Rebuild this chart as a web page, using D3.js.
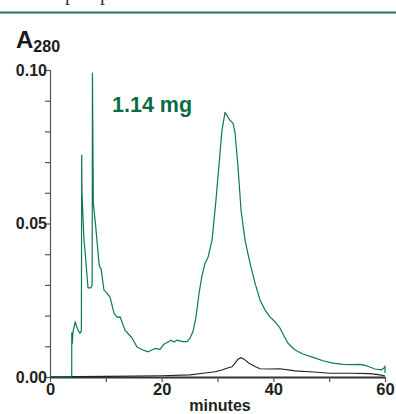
<!DOCTYPE html>
<html><head><meta charset="utf-8">
<script src="https://cdn.jsdelivr.net/npm/d3@7"></script>
<style>body{margin:0;background:#fff}svg{display:block}</style>
</head><body>
<svg id="c" width="396" height="414"></svg>
<script>
// Data (minutes, A280)
const greenTime = [0,3.89,3.9,4.0,4.12,4.53,4.78,5.1,5.37,5.62,5.68,5.73,6.09,6.32,6.81,7.29,7.55,7.6,7.76,8.19,8.78,8.96,9.13,9.67,10.21,10.75,11.46,12.0,12.54,13.43,14.69,15.58,16.66,17.55,18.81,19.7,20.42,21.67,22.21,22.75,23.82,24.54,25.08,25.61,26.15,26.69,27.22,27.76,28.3,29.02,29.73,30.45,30.81,31.35,32.19,32.78,33.14,33.67,34.21,34.93,35.82,36.72,37.61,38.51,39.4,40.3,41.2,41.73,42.63,43.88,45.31,47.1,48.9,50.69,52.48,54.27,55.52,56.78,58.21,59.29,60,60,60];
const greenValue = [0,0,0.0144,0.011,0.0148,0.018,0.0164,0.015,0.0143,0.015,0.0723,0.060,0.0446,0.040,0.029,0.029,0.030,0.099,0.0567,0.049,0.037,0.0355,0.0355,0.0283,0.0273,0.026,0.0208,0.0195,0.0196,0.0153,0.0127,0.0098,0.0088,0.0082,0.0093,0.009,0.0107,0.012,0.0114,0.012,0.0115,0.0115,0.0127,0.0148,0.0196,0.0272,0.033,0.037,0.039,0.0446,0.0577,0.073,0.0805,0.0862,0.0837,0.0827,0.0795,0.0685,0.0544,0.0446,0.0371,0.0306,0.0251,0.0218,0.0196,0.018,0.0159,0.014,0.011,0.0088,0.0075,0.0064,0.0053,0.0045,0.0041,0.004,0.0041,0.0036,0.0026,0.0023,0.0032,0.0036,0.0013];
const blackTime = [0,10,20,25.08,27.4,29.55,30.81,31.52,32.6,33.14,33.67,34.21,34.75,35.64,36.72,37.61,39.4,41.2,43.88,46.57,50.15,53.73,57.3,59.1,60];
const blackValue = [0.0001,0.0002,0.0004,0.0007,0.0012,0.0017,0.0023,0.0028,0.0033,0.0045,0.0058,0.0063,0.0058,0.0045,0.0034,0.0027,0.0026,0.0027,0.002,0.0017,0.0012,0.0012,0.0011,0.0007,0.0003];
const xTicks = [0,10,20,30,40,50,60];
const xTickLabels = ["0","","20","","40","","60"];
const yTicks = [0,0.01,0.02,0.03,0.04,0.05,0.06,0.07,0.08,0.09,0.10];
const yTickLabels = {0:"0.00",0.05:"0.05",0.1:"0.10"};
const title = "1.14 mg";
const xLabel = "minutes";

const svg = d3.select("#c");
const x = d3.scaleLinear().domain([0,60]).range([50,385]);
const y = d3.scaleLinear().domain([0,0.10]).range([377,70]);
const green = "#0c7a4f";

// top rule and cut-off text from the page above
svg.append("line").attr("x1",0).attr("x2",396).attr("y1",12.5).attr("y2",12.5)
  .attr("stroke","#1b7d58").attr("stroke-width",2);
svg.append("text").attr("x",65).attr("y",0).attr("font-family","Liberation Serif")
  .attr("font-size",20).attr("fill","#333").text("p");
svg.append("text").attr("x",100).attr("y",0).attr("font-family","Liberation Serif")
  .attr("font-size",20).attr("fill","#333").text("p");

// Y axis
const yAxis = d3.axisLeft(y).tickValues(yTicks).tickSize(5)
  .tickFormat(d => yTickLabels[Math.round(d*100)/100] || "");
const gy = svg.append("g").attr("transform","translate(50,0)").call(yAxis);
gy.select(".domain").attr("stroke","#555").attr("stroke-width",1.2);
gy.selectAll(".tick line").attr("stroke","#555").attr("stroke-width",1.2);
gy.selectAll(".tick text").attr("font-family","Liberation Sans").attr("font-weight","bold")
  .attr("font-size",16).attr("fill","#222").attr("x",-3);

// X axis
const xAxis = d3.axisBottom(x).tickValues(xTicks).tickSize(5)
  .tickFormat((d,i) => xTickLabels[i]).tickSizeOuter(0);
const gx = svg.append("g").attr("transform","translate(0,377)").call(xAxis);
gx.select(".domain").attr("stroke","#333").attr("stroke-width",2);
gx.selectAll(".tick line").attr("stroke","#555").attr("stroke-width",1.2);
gx.selectAll(".tick text").attr("font-family","Liberation Sans").attr("font-weight","bold")
  .attr("font-size",16.5).attr("fill","#222").attr("y",6);

svg.append("text").attr("x",220).attr("y",411).attr("text-anchor","middle")
  .attr("font-family","Liberation Sans").attr("font-weight","bold").attr("font-size",16)
  .attr("fill","#222").text(xLabel);

// A280 label
const a = svg.append("text").attr("x",16).attr("y",48).attr("font-family","Liberation Sans")
  .attr("font-weight","bold").attr("fill","#1a1a1a");
a.append("tspan").attr("font-size",24).text("A");
a.append("tspan").attr("font-size",16).attr("dy",4).text("280");

// title
svg.append("text").attr("x",112).attr("y",112).attr("font-family","Liberation Sans")
  .attr("font-weight","bold").attr("font-size",21.5).attr("fill","#0b6b44").text(title);

// lines
const line = d3.line().x(d=>x(d[0])).y(d=>y(d[1]));
svg.append("path").datum(d3.zip(blackTime,blackValue)).attr("d",line)
  .attr("fill","none").attr("stroke","#222").attr("stroke-width",1.1);
svg.append("path").datum(d3.zip(greenTime,greenValue)).attr("d",line)
  .attr("fill","none").attr("stroke",green).attr("stroke-width",1.2).attr("stroke-linejoin","round");
</script>
</body></html>
